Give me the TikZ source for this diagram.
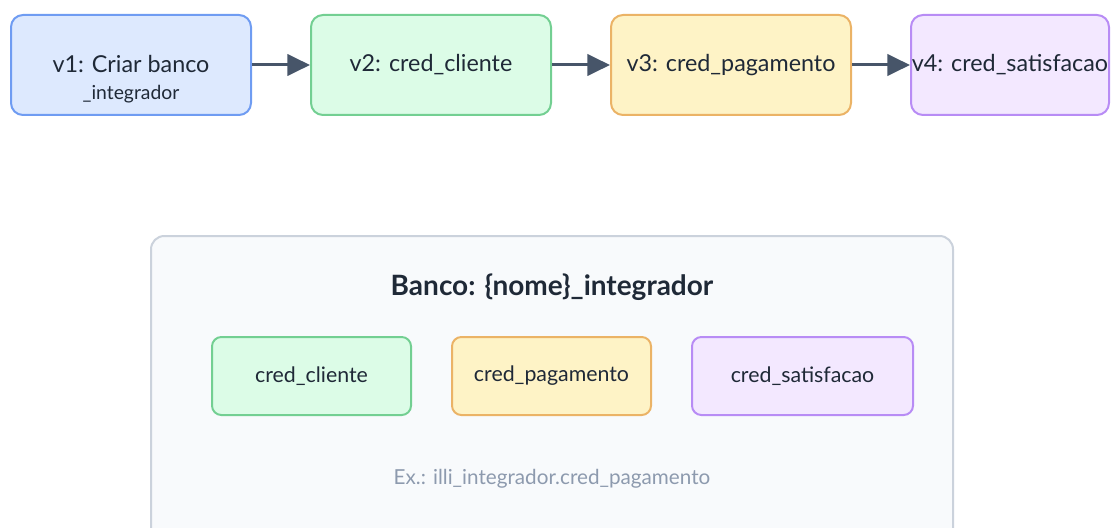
\documentclass[tikz,border=0pt]{standalone}
\usepackage{fontspec}
\setmainfont{Lato}
\usetikzlibrary{positioning,arrows.meta}
\definecolor{blueline}{HTML}{6F9CF2}
\definecolor{bluefill}{HTML}{DDE9FE}
\definecolor{greenline}{HTML}{73CF92}
\definecolor{greenfill}{HTML}{DCFCE7}
\definecolor{orangeline}{HTML}{EBB366}
\definecolor{orangefill}{HTML}{FEF3C6}
\definecolor{purpleline}{HTML}{B88CF5}
\definecolor{purplefill}{HTML}{F3E8FF}
\definecolor{dbline}{HTML}{CBD2DC}
\definecolor{dbfill}{HTML}{F8FAFC}
\definecolor{textdark}{HTML}{1F2937}
\definecolor{textgrey}{HTML}{8D9AAE}
\definecolor{arrowgrey}{HTML}{475569}

\begin{document}
\begin{tikzpicture}[x=0.75pt, y=-0.75pt, node distance={43.5pt},
    version/.style={draw, rounded corners=9pt, line width=1.5pt, minimum width=180pt, minimum height=75pt, align=center, text=textdark, font=\fontsize{17.5}{21}\selectfont},
    cred/.style={draw, rounded corners=7pt, line width=1.5pt, minimum width=149.25pt, minimum height=58.5pt, text=textdark, font=\fontsize{16}{19}\selectfont},
    flow/.style={draw=arrowgrey, line width=2.25pt, -{Triangle[length=17pt, width=16pt]}}]
    \useasboundingbox (0,0) rectangle (1111,528);

    % migration steps
    \node[version, draw=blueline, fill=bluefill] (v1) at (131,65) {\rule{0pt}{34pt}v1: Criar banco\\[-1pt]{\fontsize{14.5}{17}\selectfont\_integrador}};
    \node[version, draw=greenline, fill=greenfill] (v2) [right=of v1] {v2: cred\_cliente};
    \node[version, draw=orangeline, fill=orangefill] (v3) [right=of v2] {v3: cred\_pagamento};
    \node[version, draw=purpleline, fill=purplefill, minimum width=148.5pt, inner sep=0pt] (v4) [right=of v3] {v4: cred\_satisfacao};

    \draw[flow] (v1) -- (v2);
    \draw[flow] (v2) -- (v3);
    \draw[flow] (v3) -- (v4);

    % database
    \draw[draw=dbline, fill=dbfill, line width=1.5pt, rounded corners=10pt] (151,236) rectangle (953,560);
    \node[text=textdark, font=\fontsize{21}{25}\selectfont\bfseries] (title) at (552,287) {Banco: \{nome\}\_integrador};

    \node[cred, draw=greenline, fill=greenfill] (cli) at (311.5,376) {cred\_cliente};
    \node[cred, draw=orangeline, fill=orangefill] (pag) [right=29.25pt of cli] {cred\_pagamento};
    \node[cred, draw=purpleline, fill=purplefill, minimum width=165.75pt] (sat) [right=29.25pt of pag] {cred\_satisfacao};

    \node[text=textgrey, font=\fontsize{15.5}{18}\selectfont] (ex) at (552,479) {Ex.: illi\_integrador.cred\_pagamento};
\end{tikzpicture}
\end{document}
